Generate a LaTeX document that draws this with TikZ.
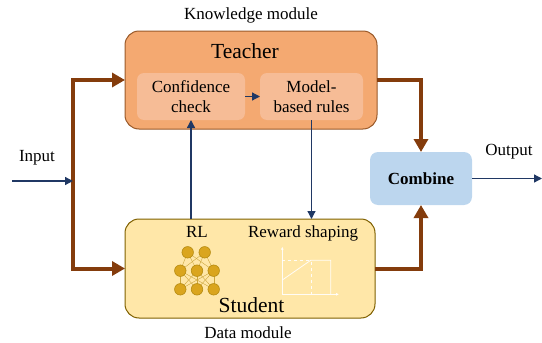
\documentclass[tikz,border=0pt]{standalone}
\usepackage{fontspec}
\setmainfont{Liberation Serif}
\usetikzlibrary{arrows.meta}
\definecolor{flowbrown}{HTML}{843C0C}
\definecolor{flowblue}{HTML}{203864}
\definecolor{teacherfill}{HTML}{F4A971}
\definecolor{teacherline}{HTML}{9A5A2A}
\definecolor{innerfill}{HTML}{F6BC96}
\definecolor{studentfill}{HTML}{FFE7A8}
\definecolor{studentline}{HTML}{7F6000}
\definecolor{combinefill}{HTML}{BCD6EE}
\definecolor{neuronfill}{HTML}{DAA51E}
\definecolor{neuronline}{HTML}{B48A10}
\tikzset{
  >=latex,
  {module/.style} ={draw,line width=1pt,rounded corners=14pt,inner sep=0,outer sep=0},
  {inner box/.style} ={fill=innerfill,rounded corners=7pt,minimum height=47pt,
                 inner sep=0,outer sep=0,align=center,
                 font=\fontsize{17}{20}\selectfont},
  {label/.style} ={inner sep=0,font=\fontsize{17}{20}\selectfont},
  {title/.style} ={inner sep=0,font=\fontsize{21.5}{24}\selectfont},
  {thick flow/.style} ={draw=flowbrown,line width=4pt,-{Triangle[length=13pt,width=14pt]}},
  {thin flow/.style} ={draw=flowblue,line width=1.3pt,-{Triangle[length=8pt,width=8pt]}},
  neuron/.style ={circle,draw=neuronline,fill=neuronfill,line width=.6pt,
                  inner sep=0,minimum size=11.5pt},
  {link/.style} ={draw=neuronline!70!studentfill,line width=.4pt},
  {chart line/.style} ={draw=white,line width=.8pt,opacity=.9},
  {chart guide/.style} ={draw=white,line width=.4pt,dashed,opacity=.9},
}
\begin{document}
\begin{tikzpicture}[x=1pt,y=-1pt]
\useasboundingbox (0,0) rectangle (542,343);
% modules
\node[module,draw=teacherline,fill=teacherfill,minimum width=252pt,minimum height=98pt] (teacher) at (251,80) {};
\node[module,draw=studentline,fill=studentfill,minimum width=250pt,minimum height=99pt] (student) at (250,268.5) {};
\node[inner box,minimum width=108pt] (conf) at (191,96.5) {Confidence\\check};
\node[inner box,minimum width=103pt] (rules) at (311.5,96.5) {Model-\\based rules};
\node[fill=combinefill,rounded corners=8pt,minimum width=102pt,minimum height=53pt,inner sep=0,outer sep=0,
      font=\fontsize{17}{20}\selectfont\bfseries] (combine) at (421,178.5) {Combine};
% texts
\node[label] (know) at (251,15) {Knowledge module};
\node[title] (teach) at (245,51) {Teacher};
\node[label] (data) at (248,333) {Data module};
\node[title] (stud) at (251.5,305) {Student};
\node[label] (rl) at (197,232) {RL};
\node[label] (shaping) at (303,233) {Reward shaping};
\node[label] (inp) at (37,158) {Input};
\node[label] (outp) at (509,152) {Output};
% network
\coordinate (a1) at (187.7,252.3);
\coordinate (a2) at (204.7,252.3);
\foreach \name/\px in {1/180.3,2/197,3/213.7}{
  \coordinate (b\name) at (\px,270.7);
  \coordinate (c\name) at (\px,289.3);
}
\foreach \from in {a1,a2}
  \foreach \to in {b1,b2,b3}
    \path[link] (\from) -- (\to);
\foreach \from in {b1,b2,b3}
  \foreach \to in {c1,c2,c3}
    \path[link] (\from) -- (\to);
\foreach \name in {a1,a2,b1,b2,b3,c1,c2,c3}
  \node[neuron] (n\name) at (\name) {};
% chart
\coordinate (origin) at (282.3,294.3);
\coordinate (ytop) at (282.3,246.7);
\coordinate (xend) at (339,294.3);
\coordinate (p1) at (282.3,280);
\coordinate (p2) at (310.7,260.3);
\coordinate (p3) at (330.7,260.3);
\path[chart line,-{Latex[length=3pt,width=3pt]}] (origin) -- (ytop);
\path[chart line,-{Latex[length=3pt,width=3pt]}] (origin) -- (xend);
\path[chart line] (p1) -- (p2) -- (p3) -- (p3 |- origin);
\path[chart guide] (p1 |- p2) -- (p2) -- (p2 |- origin);
% connectors
\coordinate (fork) at (73,181);
\coordinate (start) at (12,181);
\coordinate (finish) at (542,178.5);
\path[thick flow] (fork) |- (teacher.west);
\path[thick flow] (fork) |- (student.west);
\path[thick flow] (teacher.east) -| (combine.north);
\path[thick flow] (student.east) -| (combine.south);
\path[thin flow] (start) -- (fork);
\path[thin flow] (combine.east) -- (finish);
\path[thin flow] (conf.east) -- (rules.west);
\path[thin flow] (student.north -| conf.south) -- (conf.south);
\path[thin flow] (rules.south) -- (rules.south |- student.north);
\end{tikzpicture}
\end{document}
